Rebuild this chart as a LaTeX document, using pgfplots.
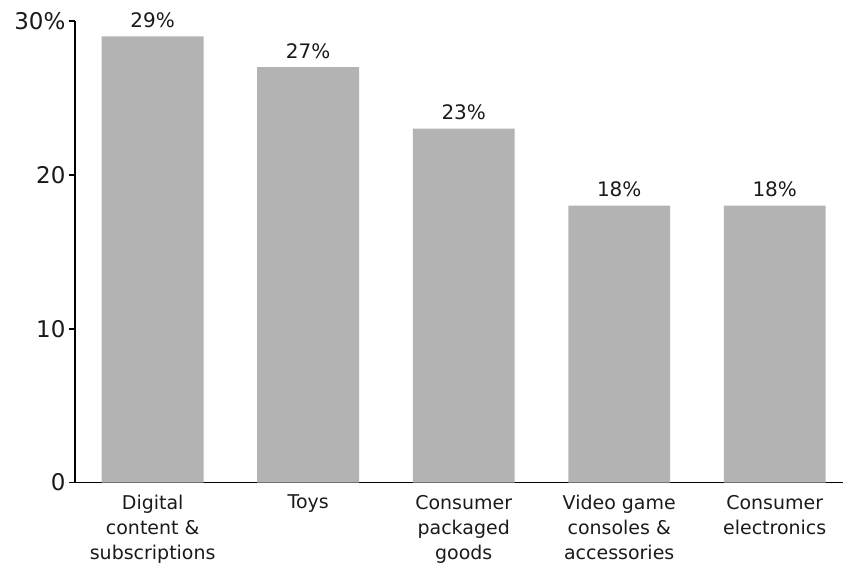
\documentclass[border=0pt]{standalone}
\usepackage{fontspec}
\setmainfont{DejaVu Sans}
\usepackage{pgfplots}
\pgfplotsset{compat=1.18}
\definecolor{bargray}{HTML}{B3B3B3}
\definecolor{txt}{HTML}{1A1A1A}
\begin{document}
\begin{tikzpicture}
\begin{axis}[
  scale only axis, width=769pt, height=462pt,
  xmin=-0.5, xmax=4.44, ymin=0, ymax=30,
  /pgf/number format/assume math mode=true,
  axis x line*=bottom, axis y line*=left,
  axis line style={line width=1.7pt, black},
  xtick={0,1,2,3,4},
  xticklabels={Digital\\content \&\\subscriptions, Toys, Consumer\\packaged\\goods, Video game\\consoles \&\\accessories, Consumer\\electronics},
  x tick style={draw=none},
  x tick label style={font=\fontsize{19}{25}\selectfont, align=center, text=txt, anchor=north, yshift=-3pt},
  ytick={0,10,20,30}, yticklabels={0,10,20,30\%},
  y tick style={line width=1.7pt, black},
  tick align=outside, major tick length=6pt,
  y tick label style={font=\fontsize{23}{26}\selectfont, text=txt},
  ybar, bar width=102pt, bar shift=0pt,
  nodes near coords={\pgfmathprintnumber{\pgfplotspointmeta}\%},
  nodes near coords style={font=\fontsize{20}{22}\selectfont, text=txt, yshift=5pt},
  clip=false,
]
\addplot[fill=bargray, draw=none] coordinates {(0,29) (1,27) (2,23) (3,18) (4,18)};
\path (rel axis cs:0,0) ++(-75pt,-78pt) coordinate (bl);
\path (rel axis cs:1,1) ++(0pt,21pt) coordinate (tr);
\end{axis}
\path[use as bounding box] (bl) rectangle (tr);
\end{tikzpicture}
\end{document}
